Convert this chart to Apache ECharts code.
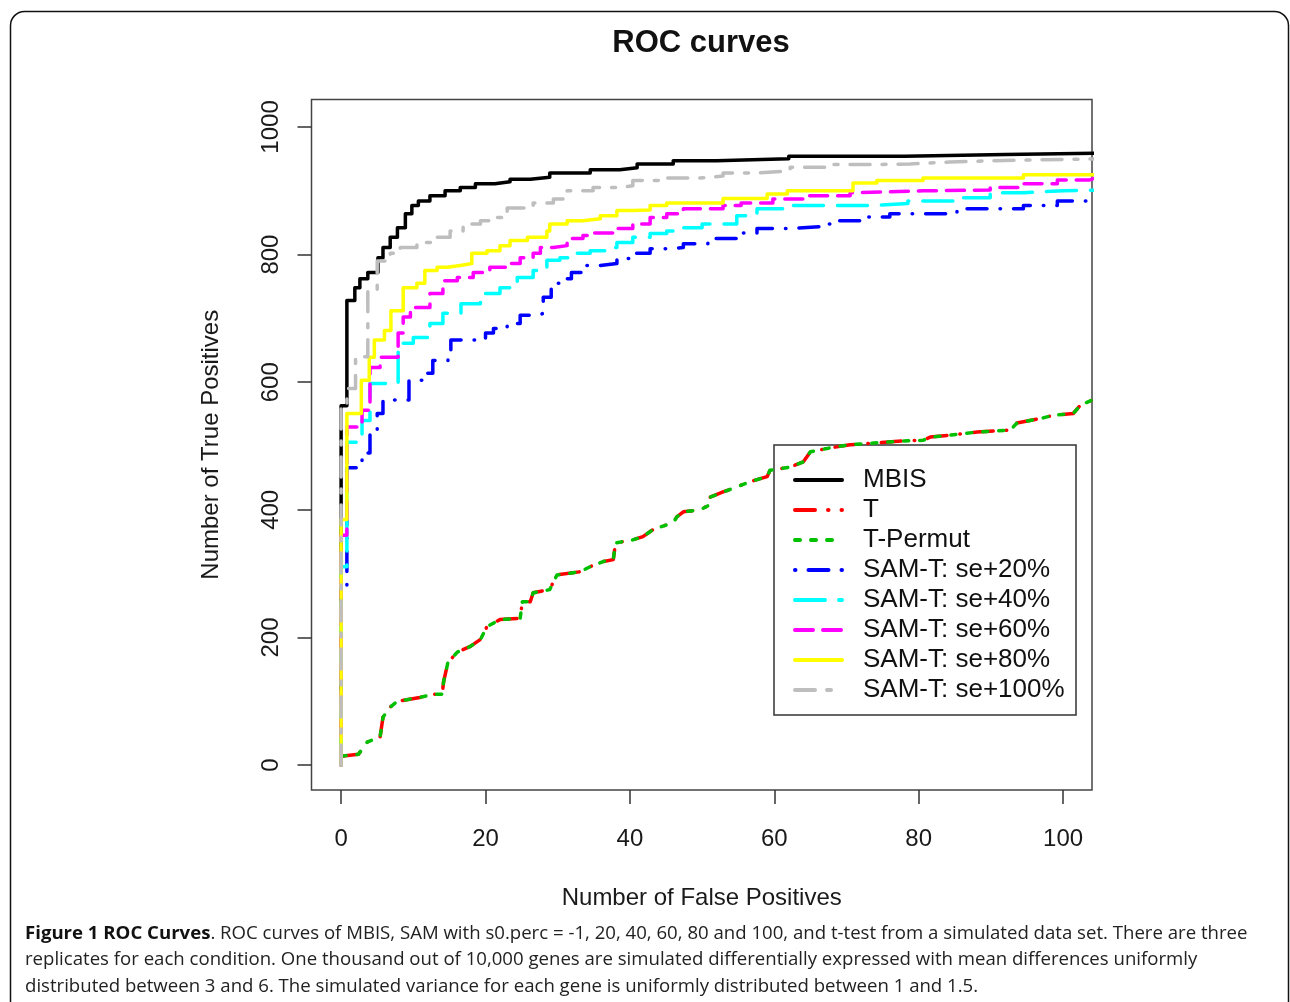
<!DOCTYPE html>
<html>
<head>
<meta charset="utf-8">
<script src="https://cdn.jsdelivr.net/npm/echarts@6/dist/echarts.min.js"></script>
<style>
html,body{margin:0;padding:0;background:#fff;}
#chart{width:1290px;height:1002px;}
</style>
</head>
<body>
<div id="chart"></div>
<script>
// ---- data (x = false positives, y = true positives) ----
const seriesNames = ['MBIS', 'T', 'T-Permut', 'SAM-T: se+20%', 'SAM-T: se+40%', 'SAM-T: se+60%', 'SAM-T: se+80%', 'SAM-T: se+100%'];
const xTicks = [0, 20, 40, 60, 80, 100];
const yTicks = [0, 200, 400, 600, 800, 1000];

const mbisPoints = [[0,0],[0,563],[0.8,728],[1.9,748],[2.6,762],[3.7,772],[5.1,795],[5.8,811],[6.8,827],[7.8,842],[8.9,864],[9.8,877],[10.7,884],[12.3,892],[14.4,900],[16.5,905],[18.6,911],[21.3,914],[23.4,918],[26.2,921],[28.9,928],[34.5,933],[38.6,936],[41,942],[46,947],[52,950],[62,954],[78,957],[92,959],[104.5,959]];
const tPoints = [[0,14],[2.4,17],[3.6,36],[5.4,44],[5.8,75],[6.8,91],[7.8,100],[10.9,106],[12.7,111],[14,111],[14.2,131],[14.8,161],[16.1,177],[17.9,186],[19.3,197],[20.2,217],[22,228],[24.8,230],[25.1,256],[26.2,256],[26.6,270],[28.9,275],[29.4,287],[29.9,298],[33.1,303],[34.5,311],[36.3,319],[37.7,322],[38,348],[40.4,353],[41.8,358],[43.2,369],[44.2,373],[46,380],[46.5,389],[47.4,397],[49.7,400],[51.1,408],[51.1,420],[52.9,428],[54.8,436],[56.6,444],[59,452],[59.4,462],[62.2,467],[64,475],[65,491],[67.7,497],[70.5,502],[74.2,505],[77.8,508],[80.6,509],[81.6,514],[84.3,517],[88.1,522],[92.7,525],[93.6,536],[97.2,544],[98.6,548],[101.4,551],[102.4,564],[104,572]];
const tPermutPoints = [[0,14],[2.4,17],[3.6,36],[5.4,44],[5.8,75],[6.8,91],[7.8,100],[10.9,106],[12.7,111],[14,111],[14.2,131],[14.8,161],[16.1,177],[17.9,186],[19.3,197],[20.2,217],[22,228],[24.8,230],[25.1,256],[26.2,256],[26.6,270],[28.9,275],[29.4,287],[29.9,298],[33.1,303],[34.5,311],[36.3,319],[37.7,322],[38,348],[40.4,353],[41.8,358],[43.2,369],[44.2,373],[46,380],[46.5,389],[47.4,397],[49.7,400],[51.1,408],[51.1,420],[52.9,428],[54.8,436],[56.6,444],[59,452],[59.4,462],[62.2,467],[64,475],[65,491],[67.7,497],[70.5,502],[74.2,505],[77.8,508],[80.6,509],[81.6,514],[84.3,517],[88.1,522],[92.7,525],[93.6,536],[97.2,544],[98.6,548],[101.4,551],[102.4,564],[104,572]];
const sam20Points = [[0,0],[0,275],[0.8,466],[2.9,489],[4,520],[5,551],[5.8,572],[9.4,603],[11.4,614],[12.7,634],[14.8,650],[15.2,666],[20,677],[21.1,684],[23,692],[24.8,705],[27.4,708],[28,733],[29.1,755],[30.3,762],[31.9,772],[33.5,783],[35.9,786],[38.2,794],[40.4,802],[42.8,809],[45.1,811],[47.4,817],[50.8,825],[54.8,830],[55.7,834],[57.6,841],[62.2,844],[66.8,848],[68.1,853],[72.3,859],[76,864],[85.3,872],[94.5,877],[99.2,884],[103.7,889],[104.5,889]];
const sam40Points = [[0,0],[0,311],[0.8,506],[2.9,540],[4,598],[7.9,661],[10,670],[12.3,692],[14.1,708],[16.6,723],[19.3,739],[22,748],[24.4,764],[26.6,775],[28.5,791],[30.3,795],[32.1,802],[34.5,806],[36.8,811],[38.2,819],[40.4,827],[42.8,833],[45.1,837],[47.4,842],[50,848],[54.8,861],[57.6,872],[62,877],[74,880],[78.5,884],[85.3,889],[89.9,897],[94.5,900],[100,901],[104.5,903]];
const sam60Points = [[0,0],[0,360],[0.8,530],[2.9,556],[4,623],[5.4,639],[7.9,677],[8.6,702],[9.6,717],[12.3,739],[14.1,759],[16.1,764],[18.3,772],[20.6,780],[23,786],[24.8,795],[26.6,802],[27.6,811],[29.4,814],[31.3,825],[33.5,830],[34.9,834],[38.2,841],[40.4,848],[42.8,858],[45.1,864],[47.4,872],[52.9,877],[55.4,881],[59.8,887],[64.5,892],[70.5,897],[71.5,900],[80.6,901],[89.9,905],[94.5,911],[99.2,917],[103.7,920],[104.5,920]];
const sam80Points = [[0,0],[0,385],[0.8,551],[2.8,603],[3.9,639],[4.6,666],[6,681],[6.9,712],[8.6,748],[10.5,755],[11.6,775],[13.3,780],[14.7,783],[16.5,786],[18.1,802],[20.2,806],[22,814],[23.4,822],[25.8,827],[28.5,837],[28.9,848],[31.3,853],[33.5,856],[35.9,861],[38.2,869],[40.4,870],[42.8,877],[45.1,881],[52.9,888],[59,895],[61.8,900],[70.9,912],[74.2,916],[80.6,920],[94.5,925],[104.5,927]];
const sam100Points = [[0,0],[0,560],[0.8,590],[2,640],[3.7,745],[5,790],[6.8,802],[8.2,811],[10.5,819],[12.7,827],[15.1,837],[16.9,848],[19.3,853],[21.1,858],[23,873],[26.6,881],[29.4,887],[31.3,900],[34.9,905],[38.6,908],[40.4,916],[45.1,920],[49.7,923],[52.9,928],[57.6,931],[62.2,937],[67.7,941],[73.3,942],[78.8,945],[84.3,947],[89.9,950],[104.5,951]];

const captionBold = 'Figure 1 ROC Curves';
const captionLines = [
  '. ROC curves of MBIS, SAM with s0.perc = -1, 20, 40, 60, 80 and 100, and t-test from a simulated data set. There are three',
  'replicates for each condition. One thousand out of 10,000 genes are simulated differentially expressed with mean differences uniformly',
  'distributed between 3 and 6. The simulated variance for each gene is uniformly distributed between 1 and 1.5.'
];

// ---- chart ----
const FONT = 'Liberation Sans, Arial, sans-serif';
const CAP_FONT = '18.6px Open Sans, sans-serif';
const chart = echarts.init(document.getElementById('chart'), null, {renderer: 'canvas'});

function mkSeries(name, data, color, dash, step) {
  return {
    name: name, type: 'line', data: data, step: step ? 'end' : false,
    showSymbol: false, symbol: 'none', clip: true, animation: false,
    lineStyle: {color: color, width: 3.5, type: dash, cap: 'round', join: 'round'},
    itemStyle: {color: color, opacity: 0},
    emphasis: {disabled: true}
  };
}

const option = {
  animation: false,
  backgroundColor: '#fff',
  grid: {left: 311.5, right: 198, top: 99.5, bottom: 212, show: true, borderColor: '#444', borderWidth: 1.5, backgroundColor: 'transparent'},
  xAxis: {
    type: 'value', min: -4.1, max: 104,
    name: 'Number of False Positives', nameLocation: 'middle', nameGap: 96,
    nameTextStyle: {fontFamily: FONT, fontSize: 24, color: '#1a1a1a'},
    axisLine: {show: false, onZero: false},
    axisTick: {show: true, length: 14, customValues: xTicks, lineStyle: {color: '#333', width: 1.5}},
    axisLabel: {customValues: xTicks, formatter: v => String(v), fontFamily: FONT, fontSize: 24, color: '#1a1a1a', margin: 37},
    splitLine: {show: false}
  },
  yAxis: {
    type: 'value', min: -39, max: 1043,
    name: 'Number of True Positives', nameLocation: 'middle', nameGap: 88,
    nameTextStyle: {fontFamily: FONT, fontSize: 24, color: '#1a1a1a'},
    axisLine: {show: false, onZero: false},
    axisTick: {show: true, length: 14, customValues: yTicks, lineStyle: {color: '#333', width: 1.5}},
    axisLabel: {customValues: yTicks, formatter: v => String(v), rotate: 90, fontFamily: FONT, fontSize: 24, color: '#1a1a1a', margin: 28},
    splitLine: {show: false}
  },
  legend: {
    show: true, orient: 'vertical', left: 793, top: 467,
    itemWidth: 47, itemHeight: 24, itemGap: 4, padding: 0,
    data: seriesNames,
    selectedMode: false,
    itemStyle: {opacity: 0},
    lineStyle: {width: 4},
    textStyle: {fontFamily: FONT, fontSize: 26, color: '#111', padding: [0, 0, 0, 16], lineHeight: 24}
  },
  graphic: [
    {type: 'rect', silent: true, shape: {x: 10.5, y: 11.5, width: 1278, height: 1100, r: 14}, style: {fill: 'none', stroke: '#111', lineWidth: 1.5}},
    {type: 'text', silent: true, x: 701, y: 43, style: {text: 'ROC curves', font: 'bold 31px ' + FONT, fill: '#111', align: 'center', verticalAlign: 'middle'}},
    {type: 'rect', silent: true, z: 1, shape: {x: 774, y: 445, width: 302, height: 270}, style: {fill: 'none', stroke: '#333', lineWidth: 1.5}},
    {type: 'text', silent: true, x: 25, y: 934, style: {text: '{b|' + captionBold + '}' + captionLines[0], font: CAP_FONT, fill: '#222', verticalAlign: 'middle', rich: {b: {font: 'bold ' + CAP_FONT, fill: '#111'}}}},
    {type: 'text', silent: true, x: 25, y: 960, style: {text: captionLines[1], font: CAP_FONT, fill: '#222', verticalAlign: 'middle'}},
    {type: 'text', silent: true, x: 25, y: 987, style: {text: captionLines[2], font: CAP_FONT, fill: '#222', verticalAlign: 'middle'}}
  ],
  series: [
    mkSeries(seriesNames[0], mbisPoints, '#000000', 'solid', true),
    mkSeries(seriesNames[1], tPoints, '#ff0000', [20, 13, 0.5, 13], false),
    mkSeries(seriesNames[2], tPermutPoints, '#00c000', [5, 11], false),
    mkSeries(seriesNames[3], sam20Points, '#0000ff', [0.5, 13, 20, 13], true),
    mkSeries(seriesNames[4], sam40Points, '#00ffff', [30, 14], true),
    mkSeries(seriesNames[5], sam60Points, '#ff00ff', [18, 10], true),
    mkSeries(seriesNames[6], sam80Points, '#ffff00', 'solid', true),
    mkSeries(seriesNames[7], sam100Points, '#bebebe', [20, 12, 4, 12], true)
  ]
};
option.series.forEach(s => { s.z = 2; });
option.legend.z = 10;
chart.setOption(option);
</script>
</body>
</html>
